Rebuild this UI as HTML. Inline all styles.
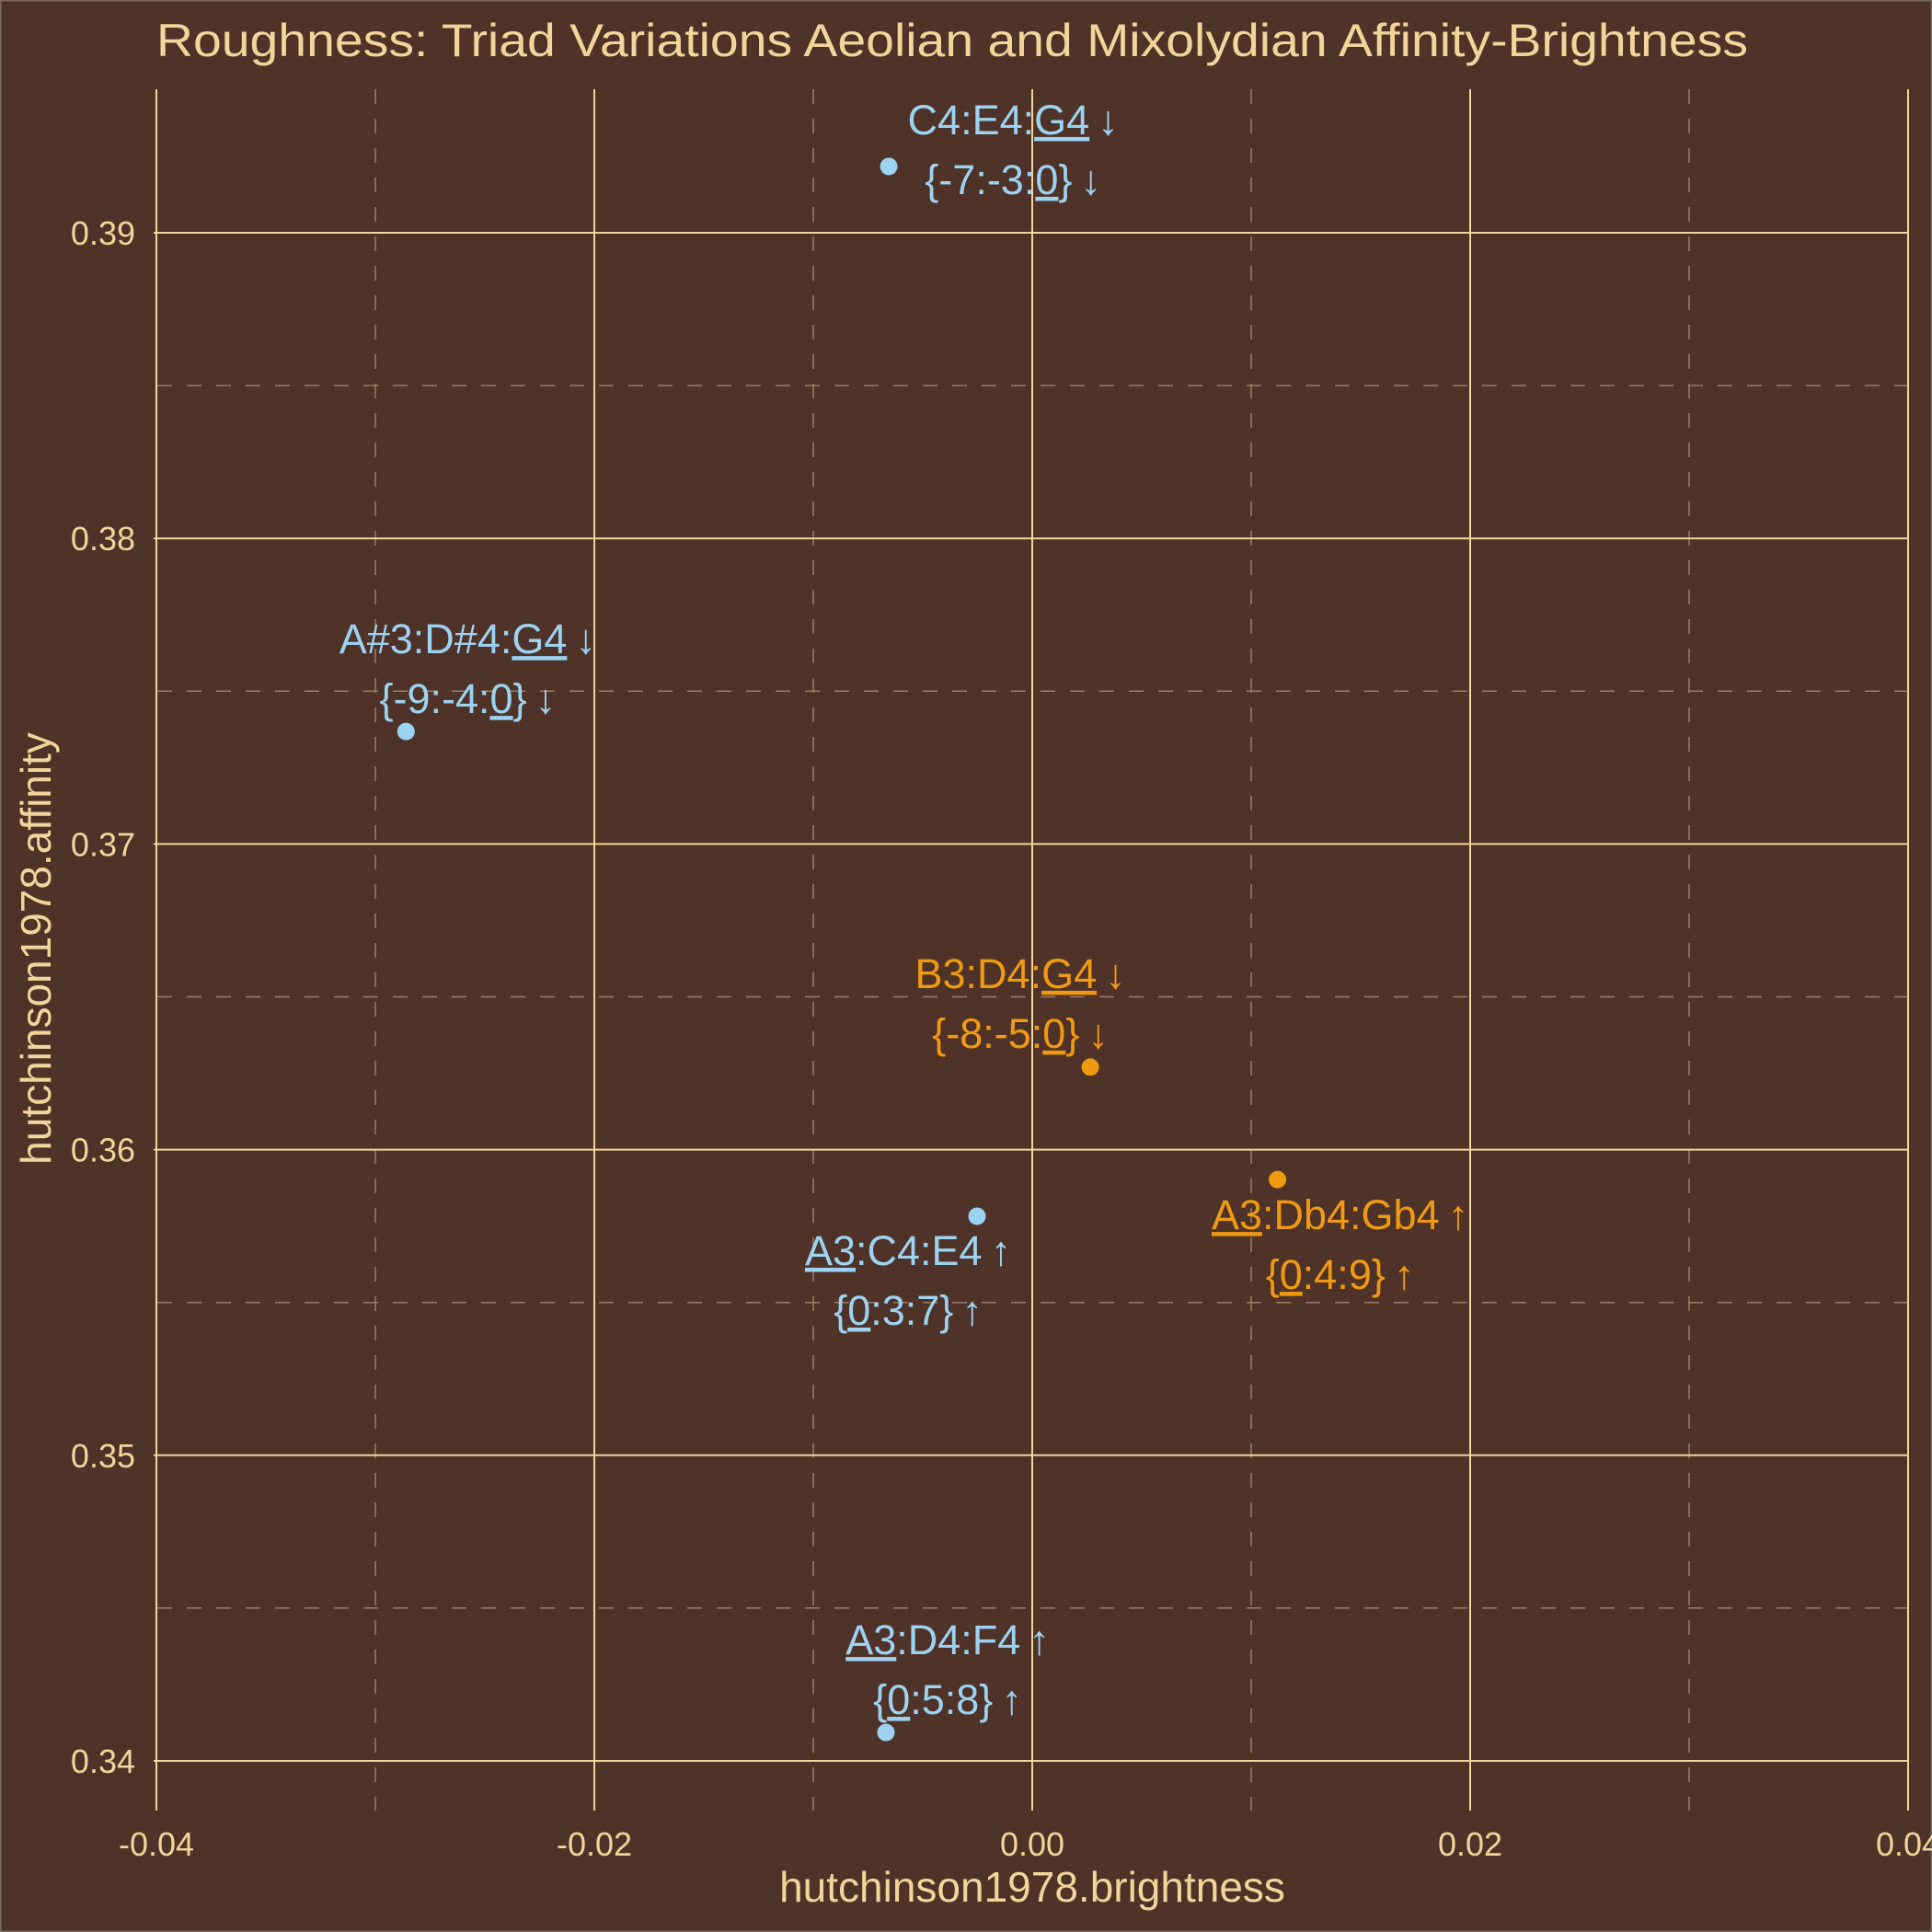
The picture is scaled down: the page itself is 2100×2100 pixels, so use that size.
<!DOCTYPE html>
<html><head><meta charset="utf-8"><style>
html,body{margin:0;padding:0;background:#4F3328;}
svg{display:block;}
text{font-family:"Liberation Sans",Arial,sans-serif;}
</style></head><body>
<svg id="chart" xmlns="http://www.w3.org/2000/svg" width="2100" height="2100" viewBox="0 0 2100 2100">
<rect x="0" y="0" width="2100" height="2100" fill="#4F3328" stroke="#7a6a5e" stroke-width="3"/>
<text x="170" y="61" font-size="50" fill="#F2D59A" textLength="1730" lengthAdjust="spacingAndGlyphs">Roughness: Triad Variations Aeolian and Mixolydian Affinity-Brightness</text>
<g id="grid"></g>
<g id="axes"></g>
<g id="marks"></g>
<text x="1122" y="2067" font-size="46" fill="#F2D59A" text-anchor="middle">hutchinson1978.brightness</text>
<text transform="translate(55,1031) rotate(-90)" font-size="46" fill="#F2D59A" text-anchor="middle">hutchinson1978.affinity</text>
</svg>
<script>
const xValues = [-0.00655, -0.0286, 0.00265, 0.0112, -0.00252, -0.00668];
const yValues = [0.39217, 0.37368, 0.3627, 0.35902, 0.35782, 0.34093];
const groups = ["blue", "blue", "orange", "orange", "blue", "blue"];
const labelLine1 = [
  [["C4:E4:",0],["G4",1],["\u2009\u2193",0]],
  [["A#3:D#4:",0],["G4",1],["\u2009\u2193",0]],
  [["B3:D4:",0],["G4",1],["\u2009\u2193",0]],
  [["A3",1],[":Db4:Gb4",0],["\u2009\u2191",0]],
  [["A3",1],[":C4:E4",0],["\u2009\u2191",0]],
  [["A3",1],[":D4:F4",0],["\u2009\u2191",0]]
];
const labelLine2 = [
  [["{-7:-3:",0],["0",1],["}\u2009\u2193",0]],
  [["{-9:-4:",0],["0",1],["}\u2009\u2193",0]],
  [["{-8:-5:",0],["0",1],["}\u2009\u2193",0]],
  [["{",0],["0",1],[":4:9}\u2009\u2191",0]],
  [["{",0],["0",1],[":3:7}\u2009\u2191",0]],
  [["{",0],["0",1],[":5:8}\u2009\u2191",0]]
];
const labelDx = [135, 67, -76, 68, -75, 67];
const labelDy = [-35, -85, -86, 54, 53, -85];
const xTicks = [-0.04, -0.02, 0.00, 0.02, 0.04];
const xTickLabels = ["-0.04", "-0.02", "0.00", "0.02", "0.04"];
const xMinor = [-0.03, -0.01, 0.01, 0.03];
const yTicks = [0.34, 0.35, 0.36, 0.37, 0.38, 0.39];
const yTickLabels = ["0.34", "0.35", "0.36", "0.37", "0.38", "0.39"];
const yMinor = [0.345, 0.355, 0.365, 0.375, 0.385];

const NS = "http://www.w3.org/2000/svg";
const L = 171, R = 2075, T = 97, B = 1968;
const xs = v => 1122 + v * 23800;
const ys = v => 253 - (v - 0.39) * 33220;
const colors = {blue: "#9DD3F2", orange: "#F09A12"};
const grid = document.getElementById('grid');
const axes = document.getElementById('axes');
const marks = document.getElementById('marks');
function mk(tag, attrs, parent) {
  const e = document.createElementNS(NS, tag);
  for (const k in attrs) e.setAttribute(k, attrs[k]);
  parent.appendChild(e);
  return e;
}
xMinor.forEach(v => {
  const l = mk('line', {x1: xs(v), x2: xs(v), y1: T, y2: B, stroke: "#9a7f64", 'stroke-width': 1.5, 'stroke-dasharray': "16 16"}, grid);
  
  
});
yMinor.forEach(v => {
  const l = mk('line', {x1: L, x2: R, y1: ys(v), y2: ys(v), stroke: "#9a7f64", 'stroke-width': 1.5, 'stroke-dasharray': "16 16"}, grid);
  
  
});
xTicks.forEach((v, i) => {
  const l = mk('line', {x1: xs(v), x2: xs(v), y1: T, y2: B, stroke: "#F2D59A", 'stroke-width': 2}, grid);
  
  
  const t = mk('text', {x: xs(v), y: 2017, 'font-size': 36, fill: "#F2D59A", 'text-anchor': 'middle'}, axes);
  t.textContent = xTickLabels[i];
  
  
});
yTicks.forEach((v, i) => {
  const l = mk('line', {x1: L - 4, x2: R, y1: ys(v), y2: ys(v), stroke: "#F2D59A", 'stroke-width': 2}, grid);
  
  
  const t = mk('text', {x: 147, y: ys(v) + 13, 'font-size': 36, fill: "#F2D59A", 'text-anchor': 'end'}, axes);
  t.textContent = yTickLabels[i];
  
  
});
function addLine(parts, x, y, col) {
  const t = mk('text', {x: x, y: y, 'font-size': 45, fill: col, 'text-anchor': 'middle'}, marks);
  
  
  parts.forEach(p => {
    const s = mk('tspan', p[1] ? {'text-decoration': 'underline'} : {}, t);
    s.textContent = p[0];
  });
}
xValues.forEach((xv, i) => {
  const cx = xs(xv), cy = ys(yValues[i]);
  const col = colors[groups[i]];
  const c = mk('circle', {cx: cx, cy: cy, r: 9.5, fill: col}, marks);
  
  
  addLine(labelLine1[i], cx + labelDx[i], cy + labelDy[i], col);
  addLine(labelLine2[i], cx + labelDx[i], cy + labelDy[i] + 65, col);
});
</script>
</body></html>
